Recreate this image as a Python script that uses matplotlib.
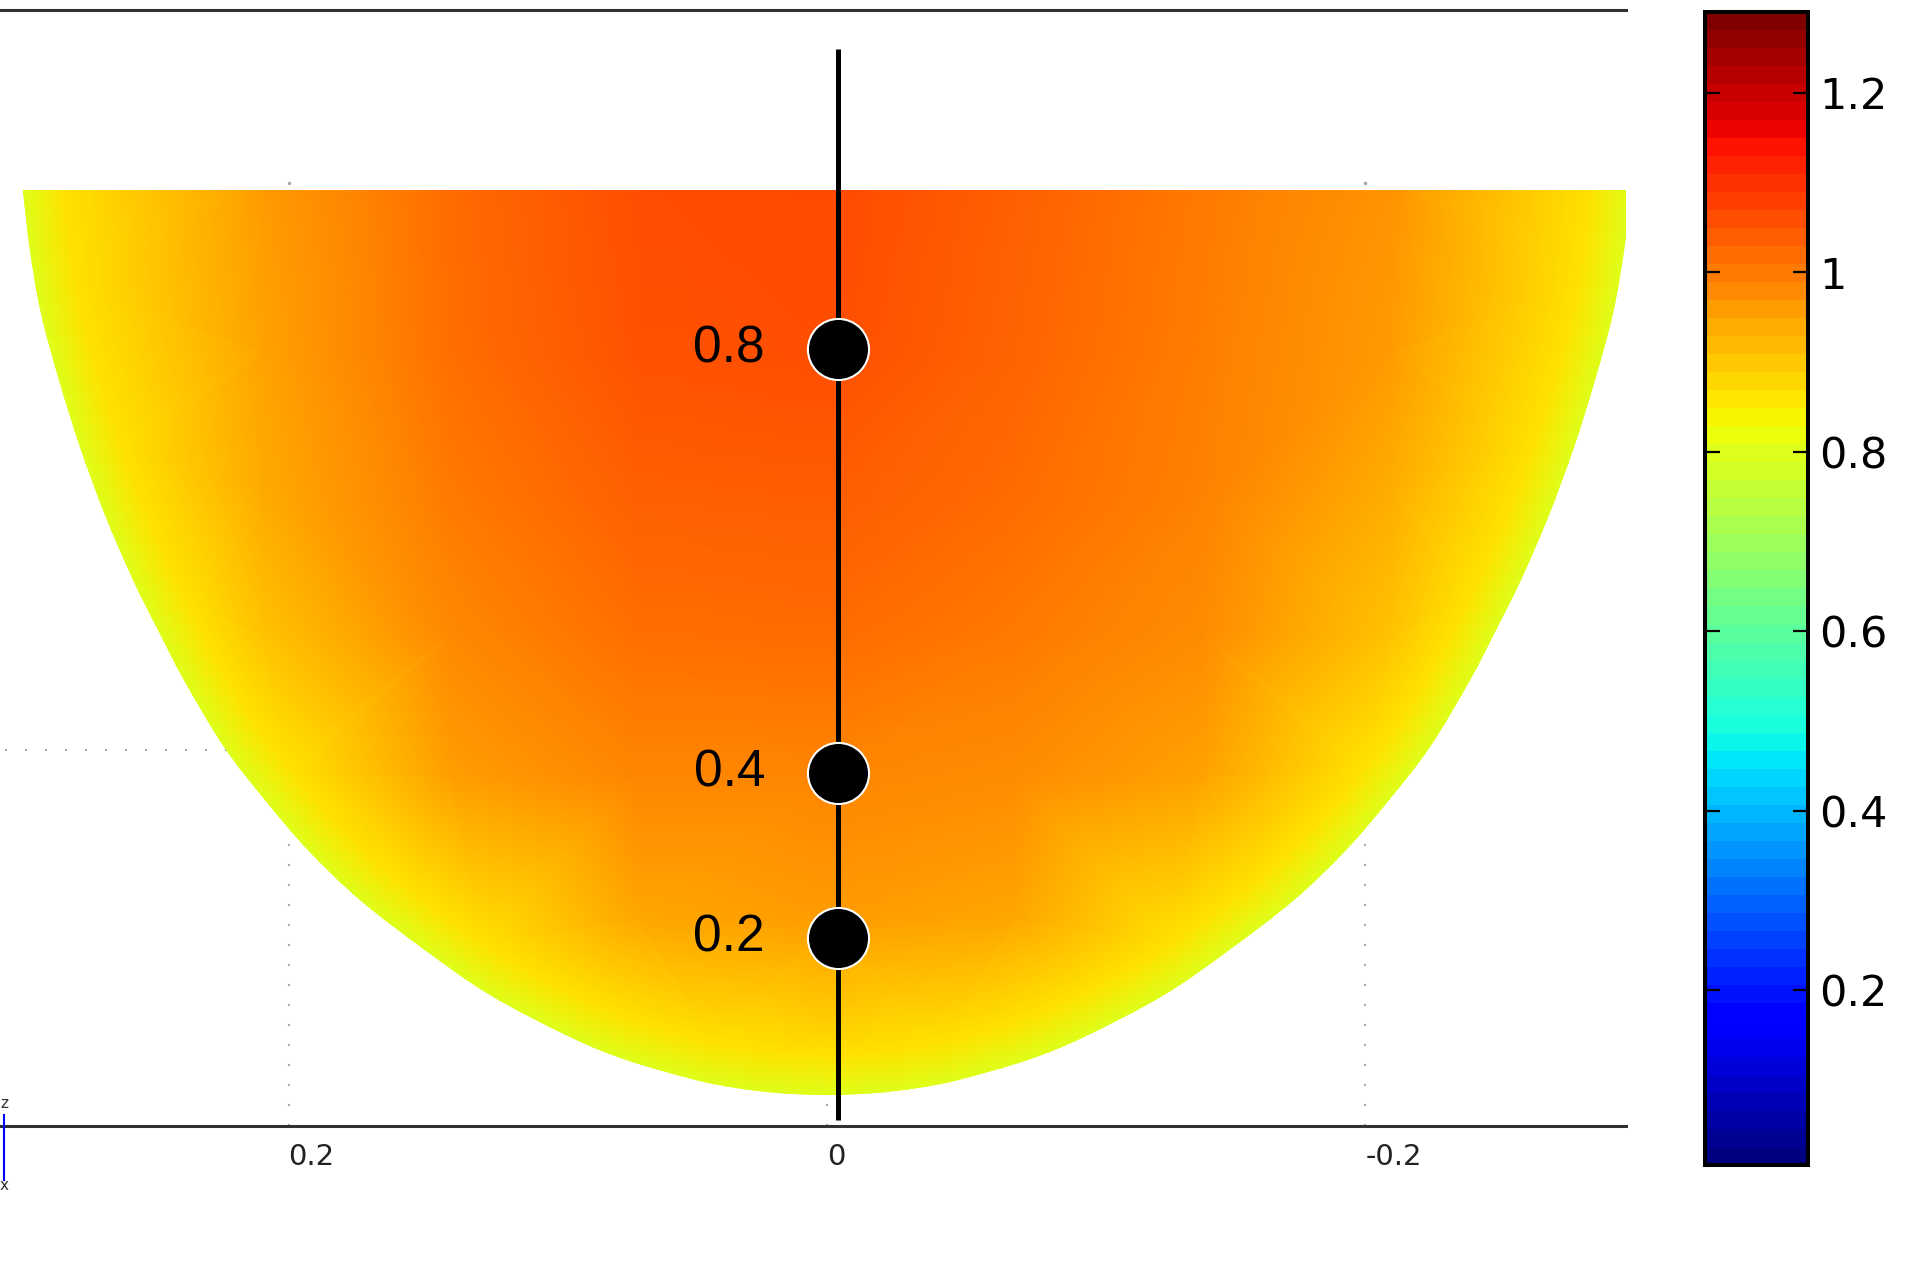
import numpy as np
import matplotlib
matplotlib.use("Agg")
import matplotlib.pyplot as plt
import matplotlib.tri as mtri
from matplotlib.colors import ListedColormap, Normalize
from matplotlib.cm import ScalarMappable
from matplotlib.patches import PathPatch
from matplotlib.path import Path
from matplotlib.lines import Line2D

# colour range of the legend
vmin, vmax = 0.005, 1.29
cbar_ticks = [0.2, 0.4, 0.6, 0.8, 1.0, 1.2]
cbar_labels = ["0.2", "0.4", "0.6", "0.8", "1", "1.2"]

# x axis
x_ticks = [0.2, 0.0, -0.2]
x_labels = ["0.2", "0", "-0.2"]

# outline of the domain (height, half width)
outline_y = [-0.0025, -0.0236, -0.0459, -0.0695, -0.0931, -0.1171, -0.1400,
             -0.1577, -0.1753, -0.1989, -0.2176, -0.2353, -0.2529, -0.2706,
             -0.2864, -0.3012, -0.3094, -0.3164, -0.3192, -0.3210, -0.3217]
outline_half = [0.2987, 0.2961, 0.2920, 0.2853, 0.2775, 0.2682, 0.2578,
                0.2485, 0.2389, 0.2240, 0.2088, 0.1928, 0.1735, 0.1493,
                0.1252, 0.0955, 0.0743, 0.0487, 0.0338, 0.0178, 0.0]

# values on the wall, just inside it and just outside it
edge_value = 0.80
inner_value = 0.865
outer_value = 0.79

grid_x = [0.21, 0.14, 0.07, 0.0, -0.07, -0.14, -0.21]
grid_y = [0.0, -0.06, -0.11, -0.16, -0.21, -0.26, -0.30]
nan = np.nan
field = [
    [0.963, 1.028, 1.066, 1.071, 1.044, 1.006, 0.973],
    [0.952, 1.022, 1.060, 1.066, 1.038, 1.000, 0.963],
    [0.940, 1.006, 1.044, 1.049, 1.028, 0.995, 0.938],
    [0.905, 0.986, 1.022, 1.028, 1.006, 0.979, 0.905],
    [nan, 0.957, 0.990, 0.993, 0.979, 0.952, nan],
    [nan, nan, 0.946, 0.960, 0.946, nan, nan],
    [nan, nan, nan, 0.888, nan, nan, nan],
]

# probe line and points
line_x = -0.0041
line_top, line_bottom = 0.0473, -0.3305
probe_y = [-0.0586, -0.2081, -0.2663]
probe_labels = ["0.8", "0.4", "0.2"]
label_x = 0.023

fig = plt.figure(figsize=(19.17, 12.75), dpi=100)
ax = fig.add_axes([0, 0.1169, 0.8482, 0.8753])
ax.set_xlim(0.3072, -0.2968)
ax.set_ylim(-0.3326, 0.0610)

norm = Normalize(vmin=vmin, vmax=vmax)

# outline: left side down, right side up, closed by the flat top
oy = np.array(outline_y)
oh = np.array(outline_half)
top = oy[0]
pts = np.column_stack([np.concatenate([oh, -oh[-2::-1]]),
                       np.concatenate([oy, oy[-2::-1]])])
n = len(pts)

# smooth path through the outline points
ext = np.vstack([2 * pts[0] - pts[1], pts, 2 * pts[-1] - pts[-2]])
verts = [pts[0]]
codes = [Path.MOVETO]
for i in range(1, n):
    p0, p1, p2, p3 = ext[i - 1], ext[i], ext[i + 1], ext[i + 2]
    verts += [p1 + (p2 - p0) / 6, p2 - (p3 - p1) / 6, p2]
    codes += [Path.CURVE4] * 3
verts.append(pts[0])
codes.append(Path.CLOSEPOLY)
wall = Path(verts, codes)
clip = PathPatch(wall, facecolor="none", edgecolor="none", transform=ax.transData)
ax.add_patch(clip)

# wall flattened in pixel space, used for the rings of the mesh
disp = wall.to_polygons(transform=ax.transData)[0]
keep = [0]
for i in range(1, len(disp)):
    if np.hypot(*(disp[i] - disp[keep[-1]])) > 12:
        keep.append(i)
disp = disp[keep]
if np.hypot(*(disp[-1] - disp[0])) < 12:
    disp = disp[:-1]
wx, wy = ax.transData.inverted().transform(disp).T

# rings just inside / outside the wall (about 40 px in, 17 px out)
in_x, in_y = wx * 0.950, top + (wy - top) * 0.956
out_x, out_y = wx * 1.02, top + (wy - top) * 1.02

gx, gy = np.meshgrid(grid_x, grid_y)
gv = np.array(field)
ok = ~np.isnan(gv)

m = len(wx)
pts_x = np.concatenate([out_x, wx, in_x, gx[ok]])
pts_y = np.concatenate([out_y, wy, in_y, gy[ok]])
vals = np.concatenate([np.full(m, outer_value), np.full(m, edge_value),
                       np.full(m, inner_value), gv[ok]])

# dotted grid (only visible outside the domain)
grid_kw = dict(colors="#a8a8a8", linewidth=1.5, linestyles=(0, (1, 8.6)), zorder=1)
ax.vlines(x_ticks, -0.3326, -0.2, **grid_kw)
ax.hlines(-0.2, 0.0, 0.3072, **grid_kw)
ax.plot([0.2, -0.2], [0.0, 0.0], ".", color="#a8a8a8", ms=3, zorder=1)

tri = mtri.Triangulation(pts_x, pts_y)
tpc = ax.tripcolor(tri, vals, shading="gouraud", cmap="jet", norm=norm, zorder=2)
tpc.set_clip_path(clip)

ax.plot([line_x, line_x], [line_top, line_bottom], color="k", lw=3.6,
        solid_capstyle="butt", zorder=3)
ax.plot([line_x] * len(probe_y), probe_y, "o", ms=44, mfc="k", mec="white",
        mew=1.5, zorder=4)
for y, lab in zip(probe_y, probe_labels):
    ax.text(label_x, y, lab, ha="right", va="center", fontsize=37,
            family=["Liberation Sans", "DejaVu Sans"], zorder=5)

for s in ["left", "right"]:
    ax.spines[s].set_visible(False)
for s in ["top", "bottom"]:
    ax.spines[s].set_color("#303030")
    ax.spines[s].set_linewidth(2.2)
ax.set_yticks([])
ax.set_xticks(x_ticks)
ax.set_xticklabels(x_labels, family=["Liberation Sans Narrow", "DejaVu Sans"],
                   fontsize=21, color="#222222")
for lbl in ax.get_xticklabels():
    lbl.set_ha("left")
ax.tick_params(axis="x", length=0, pad=12)

# colour legend
cax = fig.add_axes([0.8894, 0.0863, 0.0537, 0.9043])
cmap64 = ListedColormap(plt.cm.jet(np.linspace(0, 1, 64)))
cb = fig.colorbar(ScalarMappable(norm=norm, cmap=cmap64), cax=cax, ticks=cbar_ticks)
cb.set_ticklabels(cbar_labels)
cb.outline.set_linewidth(2.9)
cb.outline.set_edgecolor("black")
cax.tick_params(direction="in", length=11, width=1.6, left=True, right=True,
                labelsize=31, pad=8, colors="black")

# little axis triad in the corner
fig.add_artist(Line2D([4 / 1917, 4 / 1917], [1 - 1115 / 1275, 1 - 1180 / 1275],
                      transform=fig.transFigure, color="blue", lw=1.5))
fig.text(0.0, 1 - 1103 / 1275, "z", fontsize=11, va="center", color="#333333")
fig.text(0.0, 1 - 1186 / 1275, "x", fontsize=11, va="center", color="#333333")

fig.savefig("out.png", dpi=100, facecolor="white")
